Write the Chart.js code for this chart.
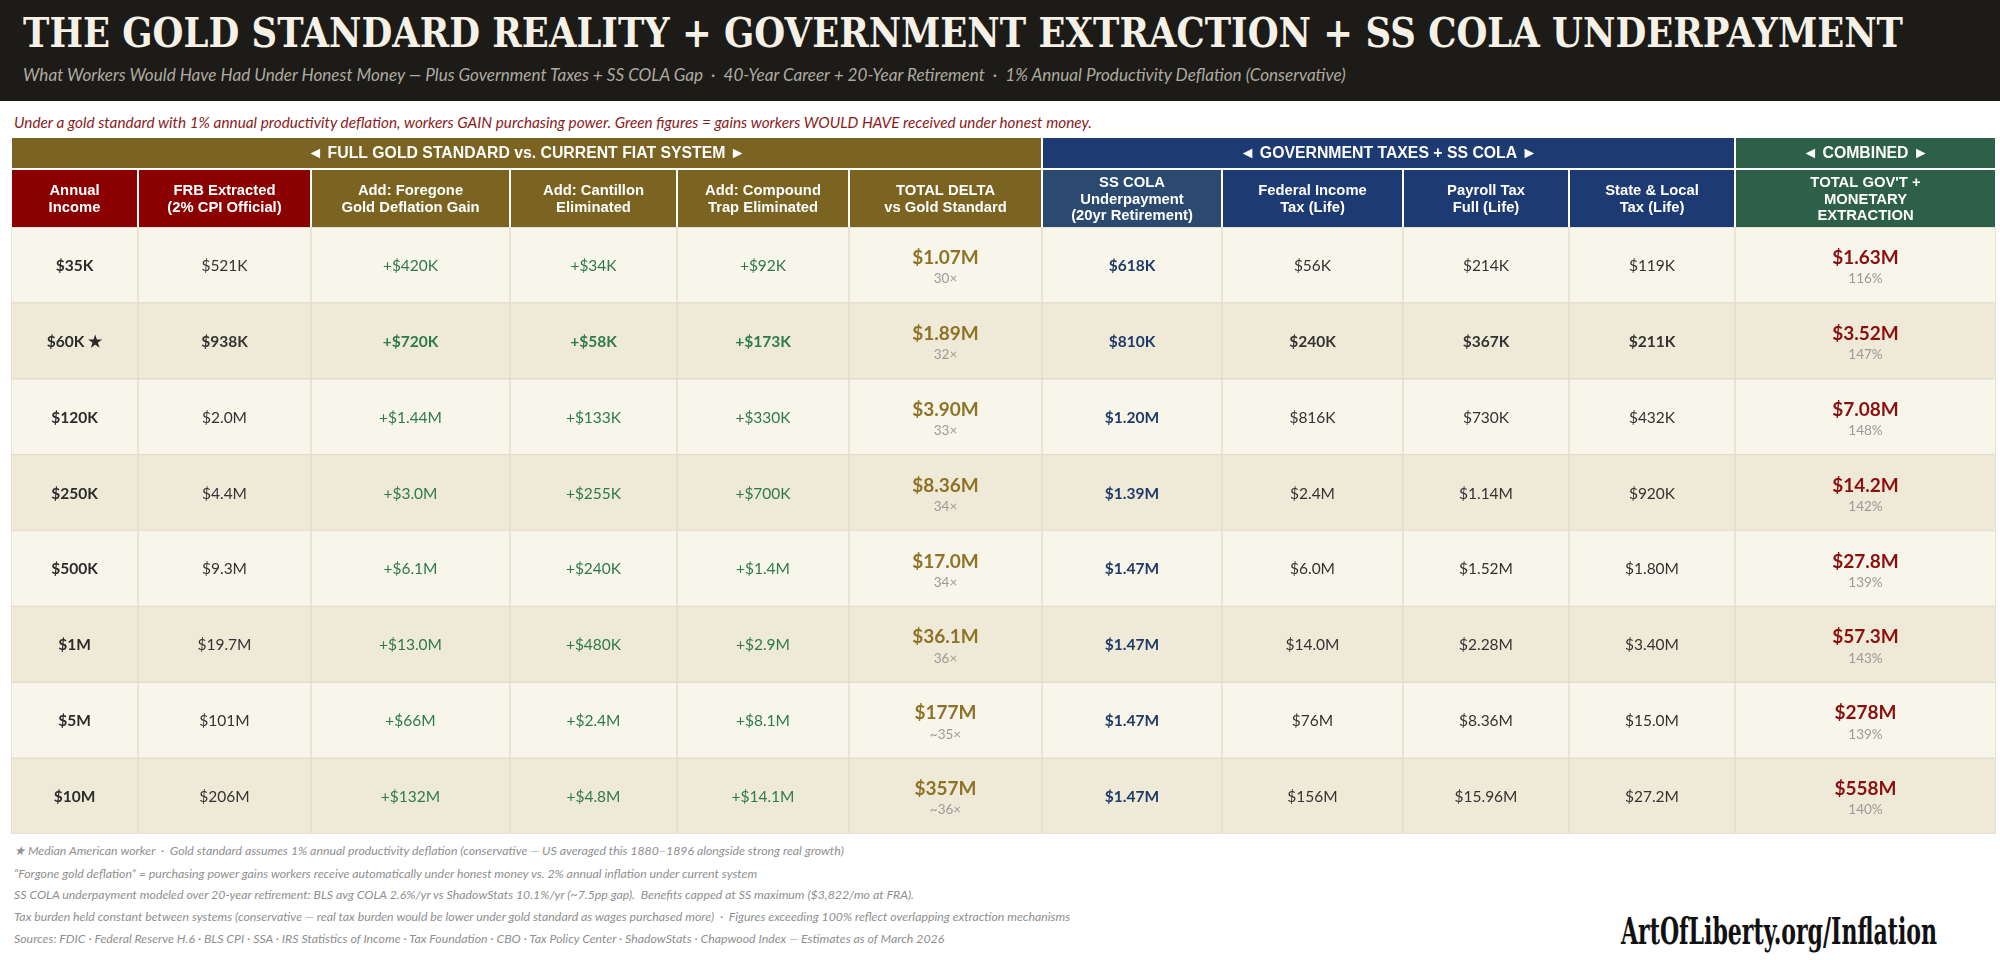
<!DOCTYPE html>
<html lang="en">
<head>
<meta charset="utf-8">
<title>The Gold Standard Reality + Government Extraction + SS COLA Underpayment</title>
<script src="https://cdn.jsdelivr.net/npm/chart.js@4.4.1/dist/chart.umd.min.js"></script>
<style>
  html, body { margin: 0; padding: 0; background: #fff; }
  body { width: 2000px; height: 960px; position: relative; overflow: hidden; font-family: Lato, sans-serif; }
  #band { position: absolute; left: 0; top: 0; width: 2000px; height: 101px; background: #1c1b17; }
  .line { position: absolute; white-space: nowrap; transform-origin: 0 50%; margin: 0; }
  #title { left: 23px; top: 12px; font: bold 41px/42px "DejaVu Serif", serif; color: #f5f1e6; }
  #subtitle { left: 23px; top: 65px; font: italic 17px/20px Lato, sans-serif; color: #aeaaa0; }
  #note { left: 14px; top: 112px; font: italic 15px/20px Lato, sans-serif; color: #8b1c1c; }
  #wrap { position: absolute; left: 0; top: 136px; width: 2000px; height: 700px; }
  .foot { left: 14px; font: italic 13px/18px Lato, sans-serif; color: #8f8f8f; }
  #logo { left: 1621px; top: 909px; font: bold 37px/44px "DejaVu Serif Condensed", "DejaVu Serif", serif; color: #111; }
</style>
</head>
<body>
<div id="band"></div>
<h1 id="title" class="line">THE GOLD STANDARD REALITY + GOVERNMENT EXTRACTION + SS COLA UNDERPAYMENT</h1>
<div id="subtitle" class="line">What Workers Would Have Had Under Honest Money — Plus Government Taxes + SS COLA Gap &nbsp;·&nbsp; 40-Year Career + 20-Year Retirement &nbsp;·&nbsp; 1% Annual Productivity Deflation (Conservative)</div>
<div id="note" class="line">Under a gold standard with 1% annual productivity deflation, workers GAIN purchasing power. Green figures = gains workers WOULD HAVE received under honest money.</div>

<div id="wrap"><canvas id="chart"></canvas></div>

<div class="line foot" style="top:842px">★ Median American worker &nbsp;·&nbsp; Gold standard assumes 1% annual productivity deflation (conservative — US averaged this 1880–1896 alongside strong real growth)</div>
<div class="line foot" style="top:865px">“Forgone gold deflation” = purchasing power gains workers receive automatically under honest money vs. 2% annual inflation under current system</div>
<div class="line foot" style="top:886px">SS COLA underpayment modeled over 20-year retirement: BLS avg COLA 2.6%/yr vs ShadowStats 10.1%/yr (~7.5pp gap). &nbsp;Benefits capped at SS maximum ($3,822/mo at FRA).</div>
<div class="line foot" id="footFit" style="top:908px">Tax burden held constant between systems (conservative — real tax burden would be lower under gold standard as wages purchased more) &nbsp;·&nbsp; Figures exceeding 100% reflect overlapping extraction mechanisms</div>
<div class="line foot" style="top:930px">Sources: FDIC · Federal Reserve H.6 · BLS CPI · SSA · IRS Statistics of Income · Tax Foundation · CBO · Tax Policy Center · ShadowStats · Chapwood Index — Estimates as of March 2026</div>
<div id="logo" class="line">ArtOfLiberty.org/Inflation</div>

<script>
/**
 * Lifetime extraction table
 * Rows = annual income, columns = gold-standard delta, government taxes, combined
 */

// Row categories
const incomeLabels = ['$35K', '$60K ★', '$120K', '$250K', '$500K', '$1M', '$5M', '$10M'];
const medianRow = 1; // the starred row is printed bold

// Full gold standard vs. current fiat system
const frbExtracted = ['$521K', '$938K', '$2.0M', '$4.4M', '$9.3M', '$19.7M', '$101M', '$206M'];
const foregoneGain = ['+$420K', '+$720K', '+$1.44M', '+$3.0M', '+$6.1M', '+$13.0M', '+$66M', '+$132M'];
const cantillonGain = ['+$34K', '+$58K', '+$133K', '+$255K', '+$240K', '+$480K', '+$2.4M', '+$4.8M'];
const compoundGain = ['+$92K', '+$173K', '+$330K', '+$700K', '+$1.4M', '+$2.9M', '+$8.1M', '+$14.1M'];
const totalDelta = ['$1.07M', '$1.89M', '$3.90M', '$8.36M', '$17.0M', '$36.1M', '$177M', '$357M'];
const deltaMultiple = ['30×', '32×', '33×', '34×', '34×', '36×', '~35×', '~36×'];

// Government taxes + SS COLA
const colaUnderpayment = ['$618K', '$810K', '$1.20M', '$1.39M', '$1.47M', '$1.47M', '$1.47M', '$1.47M'];
const federalIncomeTax = ['$56K', '$240K', '$816K', '$2.4M', '$6.0M', '$14.0M', '$76M', '$156M'];
const payrollTax = ['$214K', '$367K', '$730K', '$1.14M', '$1.52M', '$2.28M', '$8.36M', '$15.96M'];
const stateLocalTax = ['$119K', '$211K', '$432K', '$920K', '$1.80M', '$3.40M', '$15.0M', '$27.2M'];

// Combined
const combinedTotal = ['$1.63M', '$3.52M', '$7.08M', '$14.2M', '$27.8M', '$57.3M', '$278M', '$558M'];
const combinedPct = ['116%', '147%', '148%', '142%', '139%', '143%', '139%', '140%'];

// Colours
const RED_HEAD = '#8b0000';
const GOLD_HEAD = '#7b6421';
const COLA_HEAD = '#2c4a70';
const NAVY_HEAD = '#1e3a72';
const GREEN_HEAD = '#2e5f48';
const ROW_LIGHT = '#f8f5ea';
const ROW_DARK = '#efe9d7';
const CELL_LINE = '#e2dccd';
const TXT_DARK = '#2b2b2b';
const TXT_PLAIN = '#333333';
const TXT_GREEN = '#2f7a4d';
const TXT_GOLD = '#8e7226';
const TXT_NAVY = '#1f3a68';
const TXT_RED = '#8b0f0f';
const TXT_SUB = '#9a9a9a';

// Column layout (widths in px, header text, styling)
const columns = [
  { header: ['Annual', 'Income'], head: RED_HEAD, width: 127, values: incomeLabels, color: TXT_DARK, bold: true },
  { header: ['FRB Extracted', '(2% CPI Official)'], head: RED_HEAD, width: 173, values: frbExtracted, color: TXT_PLAIN },
  { header: ['Add: Foregone', 'Gold Deflation Gain'], head: GOLD_HEAD, width: 199, values: foregoneGain, color: TXT_GREEN },
  { header: ['Add: Cantillon', 'Eliminated'], head: GOLD_HEAD, width: 167, values: cantillonGain, color: TXT_GREEN },
  { header: ['Add: Compound', 'Trap Eliminated'], head: GOLD_HEAD, width: 172, values: compoundGain, color: TXT_GREEN },
  { header: ['TOTAL DELTA', 'vs Gold Standard'], head: GOLD_HEAD, width: 193, values: totalDelta, sub: deltaMultiple, color: TXT_GOLD, big: true },
  { header: ['SS COLA', 'Underpayment', '(20yr Retirement)'], head: COLA_HEAD, width: 180, values: colaUnderpayment, color: TXT_NAVY, bold: true },
  { header: ['Federal Income', 'Tax (Life)'], head: NAVY_HEAD, width: 181, values: federalIncomeTax, color: TXT_PLAIN },
  { header: ['Payroll Tax', 'Full (Life)'], head: NAVY_HEAD, width: 166, values: payrollTax, color: TXT_PLAIN },
  { header: ['State & Local', 'Tax (Life)'], head: NAVY_HEAD, width: 166, values: stateLocalTax, color: TXT_PLAIN },
  { header: ['TOTAL GOV\'T +', 'MONETARY', 'EXTRACTION'], head: GREEN_HEAD, width: 261, values: combinedTotal, sub: combinedPct, color: TXT_RED, big: true }
];

const groups = [
  { label: '◄ FULL GOLD STANDARD vs. CURRENT FIAT SYSTEM ►', from: 0, to: 5, color: GOLD_HEAD },
  { label: '◄ GOVERNMENT TAXES + SS COLA ►', from: 6, to: 9, color: NAVY_HEAD },
  { label: '◄ COMBINED ►', from: 10, to: 10, color: GREEN_HEAD }
];

const totalWidth = columns.reduce((s, c) => s + c.width, 0);
const HEAD_H = 57;   // column header row
const GROUP_H = 30;  // group header row
const HEAD_GAP = 2;

/**
 * Get left/right pixel extent of a column from its first bar
 */
function columnExtent(chart, i) {
  const el = chart.getDatasetMeta(i).data[0];
  return { left: Math.min(el.base, el.x), right: Math.max(el.base, el.x) };
}

// Draws the two header rows above the chart area
const tableHeaderPlugin = {
  id: 'tableHeader',
  afterDraw(chart) {
    const { ctx, chartArea } = chart;
    const colTop = chartArea.top - HEAD_H;
    const groupTop = colTop - HEAD_GAP - GROUP_H;
    ctx.save();
    ctx.textAlign = 'center';
    ctx.textBaseline = 'middle';

    // Group header
    groups.forEach(g => {
      const a = columnExtent(chart, g.from);
      const b = columnExtent(chart, g.to);
      ctx.fillStyle = g.color;
      ctx.fillRect(a.left + 1, groupTop, b.right - a.left - 2, GROUP_H);
      ctx.fillStyle = '#ffffff';
      ctx.font = 'bold 15.8px "Liberation Sans", Arial, sans-serif';
      ctx.fillText(g.label, (a.left + b.right) / 2, groupTop + GROUP_H / 2 + 1);
    });

    // Column header
    columns.forEach((col, i) => {
      const { left, right } = columnExtent(chart, i);
      ctx.fillStyle = col.head;
      ctx.fillRect(left + 1, colTop, right - left - 2, HEAD_H);
      ctx.fillStyle = '#ffffff';
      ctx.font = 'bold 14.8px "Liberation Sans", Arial, sans-serif';
      const lh = 16.7;
      const startY = colTop + HEAD_H / 2 - (col.header.length - 1) * lh / 2 + 1;
      col.header.forEach((line, k) => {
        ctx.fillText(line, (left + right) / 2, startY + k * lh);
      });
    });
    ctx.restore();
  }
};

// Writes the cell values on top of the bars
const cellTextPlugin = {
  id: 'cellText',
  afterDatasetsDraw(chart) {
    const { ctx } = chart;
    ctx.save();
    ctx.textAlign = 'center';
    ctx.textBaseline = 'middle';
    columns.forEach((col, i) => {
      chart.getDatasetMeta(i).data.forEach((el, r) => {
        const cx = (el.x + el.base) / 2;
        const cy = el.y;
        if (col.big) {
          ctx.fillStyle = col.color;
          ctx.font = 'bold 19px Lato, sans-serif';
          ctx.fillText(col.values[r], cx, cy - 7);
          ctx.fillStyle = TXT_SUB;
          ctx.font = '13.5px Lato, sans-serif';
          ctx.fillText(col.sub[r], cx, cy + 14);
        } else {
          const strong = col.bold || r === medianRow;
          ctx.fillStyle = col.color;
          ctx.font = (strong ? 'bold ' : '') + '15.5px Lato, sans-serif';
          ctx.fillText(col.values[r], cx, cy + 1);
        }
      });
    });
    ctx.restore();
  }
};

new Chart(document.getElementById('chart'), {
  type: 'bar',
  data: {
    labels: incomeLabels,
    datasets: columns.map(col => ({
      label: col.header.join(' '),
      data: incomeLabels.map(() => col.width),
      backgroundColor: c => (c.dataIndex % 2 ? ROW_DARK : ROW_LIGHT),
      borderColor: CELL_LINE,
      borderWidth: 1,
      borderSkipped: false,
      barPercentage: 1,
      categoryPercentage: 1
    }))
  },
  options: {
    indexAxis: 'y',
    responsive: true,
    maintainAspectRatio: false,
    animation: false,
    layout: { padding: { left: 11, right: 4, top: HEAD_H + HEAD_GAP + GROUP_H + 2, bottom: 2 } },
    plugins: {
      legend: { display: false },
      tooltip: { enabled: false },
      title: { display: false }
    },
    scales: {
      x: { stacked: true, display: false, min: 0, max: totalWidth },
      y: { stacked: true, display: false }
    }
  },
  plugins: [tableHeaderPlugin, cellTextPlugin]
});

/**
 * Stretch a text line horizontally to a target width
 */
function fitScaleX(el, target) {
  const w = el.getBoundingClientRect().width;
  if (w > 0) el.style.transform = 'scaleX(' + (target / w) + ')';
}

/**
 * Resize a text line's font so it spans a target width
 */
function fitFontSize(el, target) {
  const fs = parseFloat(getComputedStyle(el).fontSize);
  const w = el.getBoundingClientRect().width;
  if (w > 0) el.style.fontSize = (fs * target / w) + 'px';
  return fs * target / w;
}

fitScaleX(document.getElementById('title'), 1880);
fitFontSize(document.getElementById('subtitle'), 1324);
fitFontSize(document.getElementById('note'), 1079);
const footSize = fitFontSize(document.getElementById('footFit'), 1057);
document.querySelectorAll('.foot').forEach(el => { el.style.fontSize = footSize + 'px'; });
fitScaleX(document.getElementById('logo'), 316);
</script>
</body>
</html>
